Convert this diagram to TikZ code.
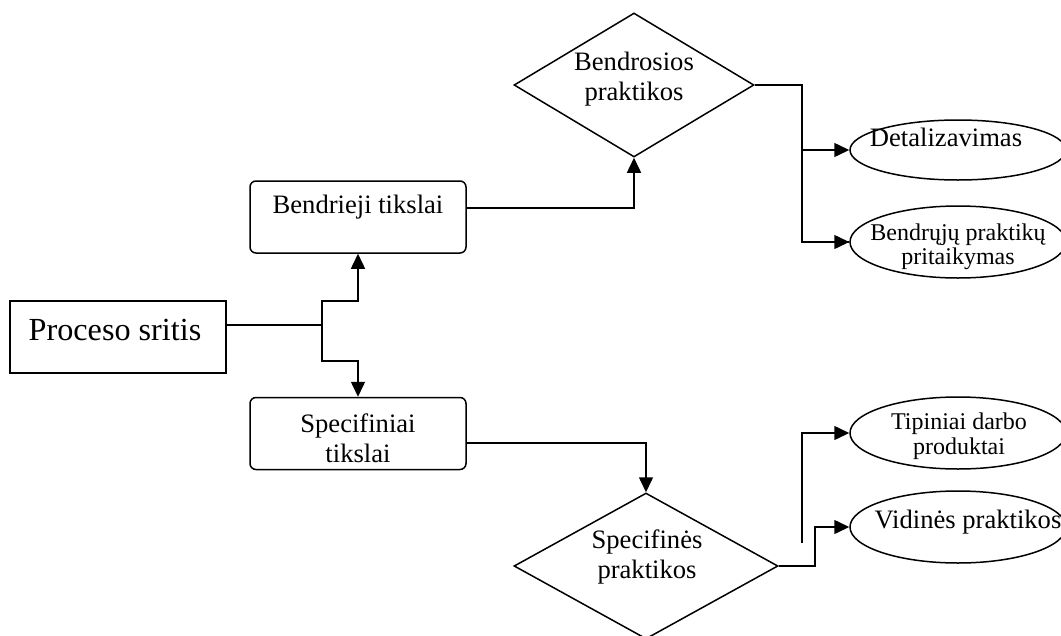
\documentclass[tikz,border=0pt]{standalone}
\usepackage{fontspec}
\setmainfont{Liberation Serif}
\usetikzlibrary{shapes.geometric,arrows.meta}
\begin{document}
\begin{tikzpicture}[x=1pt,y=-1pt,
  line width=1.5pt,
  arr/.style={-{Triangle[length=15pt,width=14pt]}},
  sqbox/.style={draw,rectangle,inner sep=0pt,minimum width=216pt,minimum height=72pt},
  rbox/.style={draw,rectangle,rounded corners=6pt,inner sep=0pt,minimum width=216pt,minimum height=72pt},
  dia/.style={draw,diamond,inner sep=0pt},
  ell/.style={draw,ellipse,inner sep=0pt,minimum width=216pt,minimum height=72pt},
  txt/.style={inner sep=0pt,align=center,font=\fontsize{26.6}{30}\selectfont},
  stxt/.style={inner sep=0pt,align=center,font=\fontsize{24}{24.5}\selectfont}]
\useasboundingbox (0,0) rectangle (1061,635);
% boxes
\node[sqbox] (proc) at (118,337) {};
\node[inner sep=0pt,font=\fontsize{32.2}{34}\selectfont] (proct) at (115,330) {Proceso sritis};
\node[rbox] (bt) at (358,217) {};
\node[txt] (btt) at (358,207) {Bendrieji tikslai};
\node[rbox] (st) at (358,433.5) {};
\node[txt] (stt) at (358,438) {Specifiniai\\tikslai};
% diamonds
\node[dia,minimum width=240pt,minimum height=144pt] (bd) at (634,85) {};
\node[txt] (bdt) at (634,79) {Bendrosios\\praktikos};
\node[dia,minimum width=264pt,minimum height=146pt] (sd) at (646,566) {};
\node[txt] (sdt) at (647,557) {Specifinės\\praktikos};
% ellipses
\node[ell,minimum height=60pt] (det) at (958,150) {};
\node[txt] (dett) at (946,137) {Detalizavimas};
\node[ell] (bpp) at (958,242) {};
\node[stxt] (bppt) at (958,247) {Bendrųjų praktikų\\pritaikymas};
\node[ell] (tip) at (958,433) {};
\node[stxt] (tipt) at (959,436) {Tipiniai darbo\\produktai};
\node[ell] (vid) at (958,527) {};
\node[txt] (vidt) at (968,522) {Vidinės praktikos};
% connectors
\coordinate (j) at (322,325);
\coordinate (jt) at (322,301);
\coordinate (jb) at (322,361);
\draw (proc.east |- j) -- (j);
\draw[arr] (j) -- (jt) -| (bt.south);
\draw[arr] (j) -- (jb) -| (st.north);
\coordinate (b1) at (466,208);
\draw[arr] (b1) -| (bd.south);
\coordinate (k) at (802,85);
\draw (bd.east) -- (k) |- (bpp.west);
\draw[arr] (k) |- (det.west);
\draw[arr] (bpp.west -| k) -- (bpp.west);
\coordinate (s1) at (466,443);
\draw[arr] (s1) -| (sd.north);
\coordinate (f) at (802,543);
\draw[arr] (f) |- (tip.west);
\coordinate (m) at (815,566);
\draw[arr] (sd.east) -- (m) |- (vid.west);
\end{tikzpicture}
\end{document}
